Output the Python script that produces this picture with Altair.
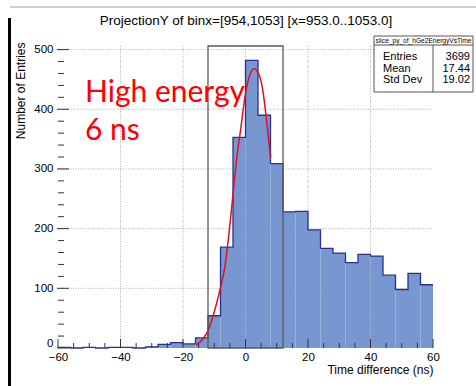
import altair as alt
import pandas as pd

# ---------------- data ----------------
bin_lo = [-60, -56, -52, -48, -44, -40, -36, -32, -28, -24, -20, -16, -12, -8, -4,
          0, 4, 8, 12, 16, 20, 24, 28, 32, 36, 40, 44, 48, 52, 56]
counts = [1, 0, 1, 0, 1, 1, 0, 2, 6, 9, 7, 17, 54, 169, 353,
          482, 390, 309, 228, 229, 198, 167, 159, 143, 157, 154, 122, 98, 125, 106]
bin_width = 4

fit_x = [-15.8, -13.5, -11.9, -9.8, -8.2, -6.6, -5.2, -4.1, -2.8, -1.5, -0.2,
         1.4, 2.8, 4.1, 5.5, 6.6, 7.4, 8.05]
fit_y = [5, 16, 30, 64, 97, 136, 196, 252, 318, 368, 420, 458, 468, 461, 433, 388, 349, 318]

box_x = [-12, 12]

x_major = [-60, -40, -20, 0, 20, 40, 60]
x_minor = [-55, -50, -45, -35, -30, -25, -15, -10, -5, 5, 10, 15, 25, 30, 35, 45, 50, 55]
y_major = [0, 100, 200, 300, 400, 500]
y_minor = [20, 40, 60, 80, 120, 140, 160, 180, 220, 240, 260, 280, 320, 340, 360, 380,
           420, 440, 460, 480]
x_grid = [-40, -20, 0, 20, 40]
y_grid = [100, 200, 300, 400, 500]

title_text = "ProjectionY of binx=[954,1053] [x=953.0..1053.0]"
note_lines = ["High energy", "6 ns"]
stats_name = "slice_py_of_hGe2EnergyVsTime"
stats_labels = ["Entries", "Mean", "Std Dev"]
stats_values = ["3699", "17.44", "19.02"]

X_DOMAIN = [-60, 60]
Y_MAX = 506
W, H = 375, 302
FONT = "Liberation Sans"

xs = alt.Scale(domain=X_DOMAIN, nice=False, zero=False)
ys = alt.Scale(domain=[0, Y_MAX], nice=False, zero=False)

hist = pd.DataFrame({"lo": bin_lo, "hi": [b + bin_width for b in bin_lo], "n": counts,
                     "zero": [0] * len(bin_lo)})
outline = pd.DataFrame({"x": bin_lo + [bin_lo[-1] + bin_width], "n": counts + [counts[-1]]})
fit = pd.DataFrame({"x": fit_x, "y": fit_y})
one = pd.DataFrame({"a": [0]})

x_axis = alt.Axis(values=x_major, grid=False, ticks=False, domain=False, tickSize=0,
                  labelFont=FONT, labelFontSize=11.5, labelColor="#000", labelPadding=3,
                  labelFlush=False, labelOverlap=False,
                  title="Time difference (ns)", titleFont=FONT, titleFontSize=12,
                  titleFontWeight="normal", titleColor="#000", titleAlign="right",
                  titleAnchor="end", titleX=W, titleY=21, titleBaseline="middle")
y_axis = alt.Axis(values=y_major, grid=False, ticks=False, domain=False, tickSize=0,
                  labelFont=FONT, labelFontSize=11.5, labelColor="#000", labelPadding=5,
                  labelOverlap=False,
                  labelBaseline=alt.condition("datum.value == 0", alt.value("bottom"),
                                              alt.value("middle")),
                  title="Number of Entries", titleFont=FONT, titleFontSize=12,
                  titleFontWeight="normal", titleColor="#000", titleAngle=-90,
                  titleAlign="right", titleAnchor="end", titleX=-38, titleY=-4,
                  titleBaseline="middle")


def label(text, x, y, size, align="left", baseline="middle", font=FONT, color="#000"):
    return alt.Chart(pd.DataFrame({"t": [text]})).mark_text(
        font=font, fontSize=size, color=color, align=align, baseline=baseline).encode(
        text="t:N", x=alt.value(x), y=alt.value(y))


# grid
vgrid = alt.Chart(pd.DataFrame({"x": x_grid})).mark_rule(
    color="#9a9a9a", strokeDash=[1, 1.5], strokeWidth=0.8).encode(
    x=alt.X("x:Q", scale=xs, axis=x_axis), y=alt.value(0), y2=alt.value(H))
hgrid = alt.Chart(pd.DataFrame({"y": y_grid})).mark_rule(
    color="#9a9a9a", strokeDash=[1, 1.5], strokeWidth=0.8).encode(
    y=alt.Y("y:Q", scale=ys, axis=y_axis), x=alt.value(0), x2=alt.value(W))

bars = alt.Chart(hist).mark_rect(color="#7896d0").encode(
    x=alt.X("lo:Q", scale=xs, axis=x_axis), x2="hi:Q",
    y=alt.Y("n:Q", scale=ys, axis=y_axis), y2="zero:Q")

steps = alt.Chart(outline).mark_line(interpolate="step-after", color="#25338f",
                                     strokeWidth=1.3).encode(
    x=alt.X("x:Q", scale=xs, axis=x_axis), y=alt.Y("n:Q", scale=ys, axis=y_axis))

curve = alt.Chart(fit).mark_line(interpolate="monotone", color="#e0101a",
                                 strokeWidth=1.5).encode(
    x=alt.X("x:Q", scale=xs, axis=x_axis), y=alt.Y("y:Q", scale=ys, axis=y_axis))

box = alt.Chart(pd.DataFrame({"a": [box_x[0]], "b": [box_x[1]]})).mark_rect(
    fill="white", fillOpacity=0, stroke="#5a5a5a", strokeWidth=1.3).encode(
    x=alt.X("a:Q", scale=xs, axis=x_axis), x2="b:Q", y=alt.value(0), y2=alt.value(H))

# ticks (inside the frame, ROOT style)
xtM = alt.Chart(pd.DataFrame({"x": x_major})).mark_rule(color="#333", strokeWidth=1).encode(
    x=alt.X("x:Q", scale=xs, axis=x_axis), y=alt.value(H), y2=alt.value(H - 9))
xtm = alt.Chart(pd.DataFrame({"x": x_minor})).mark_rule(color="#333", strokeWidth=1).encode(
    x=alt.X("x:Q", scale=xs, axis=x_axis), y=alt.value(H), y2=alt.value(H - 5))
ytM = alt.Chart(pd.DataFrame({"y": y_major})).mark_rule(color="#333", strokeWidth=1).encode(
    y=alt.Y("y:Q", scale=ys, axis=y_axis), x=alt.value(-1), x2=alt.value(11))
ytm = alt.Chart(pd.DataFrame({"y": y_minor})).mark_rule(color="#333", strokeWidth=1).encode(
    y=alt.Y("y:Q", scale=ys, axis=y_axis), x=alt.value(0), x2=alt.value(6))

title = label(title_text, 188, -21, 13.5, align="center", baseline="alphabetic")

note1 = label(note_lines[0], 27, 56, 30, baseline="alphabetic", font="Lato", color="#ff0000")
note2 = label(note_lines[1], 27, 94, 30, baseline="alphabetic", font="Lato", color="#ff0000")

# stats box
sb_outer = alt.Chart(one).mark_rect(fill="white", stroke="#444", strokeWidth=0.9).encode(
    x=alt.value(316), x2=alt.value(415), y=alt.value(-10), y2=alt.value(46))
sb_line = alt.Chart(one).mark_rule(color="#444", strokeWidth=0.9).encode(
    x=alt.value(316), x2=alt.value(415), y=alt.value(-1))
sb_div = alt.Chart(one).mark_rule(color="#444", strokeWidth=0.9).encode(
    x=alt.value(375), y=alt.value(-1), y2=alt.value(46))
sb_name = label(stats_name, 365.5, -5.5, 6.6, align="center")
row_y = [11, 22.5, 34]
sb_texts = []
for lab, val, yy in zip(stats_labels, stats_values, row_y):
    sb_texts.append(label(lab, 325, yy, 11))
    sb_texts.append(label(val, 412, yy, 11, align="right"))

# edge artifacts of the screenshot
black_bar = alt.Chart(one).mark_rect(color="#000").encode(
    x=alt.value(-50), x2=alt.value(-47), y=alt.value(-28), y2=alt.value(340))
top_line = alt.Chart(one).mark_rule(color="#cfcfcf", strokeWidth=2).encode(
    x=alt.value(-48), x2=alt.value(418), y=alt.value(-39))

chart = alt.layer(
    vgrid, hgrid, bars, steps, curve, box, xtM, xtm, ytM, ytm,
    title, note1, note2, sb_outer, sb_line, sb_div, sb_name, *sb_texts, black_bar, top_line
).properties(
    width=W, height=H,
    autosize=alt.AutoSizeParams(type="none"),
    padding={"left": 58, "top": 46, "right": 43, "bottom": 38},
    background="white",
).configure_view(stroke=None)

chart.save("out.html", embed_options={"renderer": "svg", "actions": False})
